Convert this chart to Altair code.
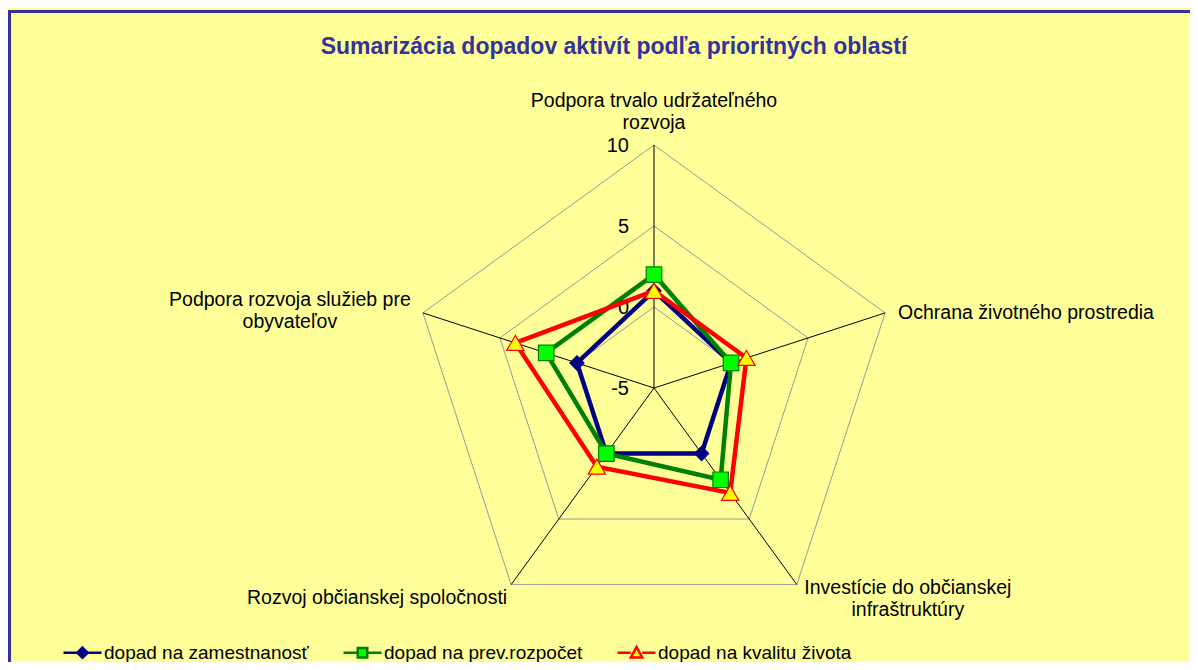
import altair as alt
import pandas as pd

# ---------------- data ----------------
categories = [
    "Podpora trvalo udržateľného rozvoja",
    "Ochrana životného prostredia",
    "Investície do občianskej infraštruktúry",
    "Rozvoj občianskej spoločnosti",
    "Podpora rozvoja služieb pre obyvateľov",
]
category_labels = [
    "Podpora trvalo udržateľného\nrozvoja",
    "Ochrana životného prostredia",
    "Investície do občianskej\ninfraštruktúry",
    "Rozvoj občianskej spoločnosti",
    "Podpora rozvoja služieb pre\nobyvateľov",
]
series_names = ["dopad na zamestnanosť", "dopad na prev.rozpočet", "dopad na kvalitu života"]
zamestnanost = [1, 0, 0, 0, 0]
rozpocet = [2, 0, 2, 0, 2]
kvalita = [1, 1, 3, 1, 4]
tick_values = [-5, 0, 5, 10]
tick_labels = ["-5", "0", "5", "10"]
title_text = "Sumarizácia dopadov aktivít podľa prioritných oblastí"

# ---------------- layout / style ----------------
W, H = 1182, 654
CX, CY = 646, 380          # centre of the radar in chart pixels
RMAX = 243                 # pixel radius of the full range
RMIN_V, RMAX_V = tick_values[0], tick_values[-1]
K = RMAX / (RMAX_V - RMIN_V)
xscale = alt.Scale(domain=[-CX / K, (W - CX) / K], nice=False, zero=False)
yscale = alt.Scale(domain=[-(H - CY) / K, CY / K], nice=False, zero=False)
N = len(categories)
FONT = "Liberation Sans"

styles = [
    dict(line="#000080", fill="#000080", stroke="#000080", shape="diamond", size=200),
    dict(line="#008000", fill="#00FF00", stroke="#008000", shape="square", size=240),
    dict(line="#FF0000", fill="#FFFF00", stroke="#FF0000", shape="triangle-up", size=300),
]
legend_paths = [
    "M-1,0H1M0,-0.27L0.27,0L0,0.27L-0.27,0Z",
    "M-1,0H-0.25M0.25,0H1M-0.25,-0.25H0.25V0.25H-0.25Z",
    "M-1,0H-0.3M0.3,0H1M0,-0.3L0.3,0.25L-0.3,0.25Z",
]

def polar(chart, rfield="value"):
    return chart.transform_calculate(
        ang=f"PI/2 - 2*PI*datum.idx/{N}",
        r=f"datum.{rfield} - ({RMIN_V})",
    ).transform_calculate(
        x="datum.r*cos(datum.ang)",
        y="datum.r*sin(datum.ang)",
    )

X = alt.X("x:Q", scale=xscale, axis=None)
Y = alt.Y("y:Q", scale=yscale, axis=None)

# ---------------- grid ----------------
ring_rows = []
for v in tick_values[1:]:
    for i in range(N + 1):
        ring_rows.append({"ring": v, "idx": i, "value": v})
rings = polar(alt.Chart(pd.DataFrame(ring_rows))).mark_line(
    color="#999999", strokeWidth=1
).encode(x=X, y=Y, detail="ring:N", order="idx:Q")

spoke_df = pd.DataFrame({"idx": list(range(N)), "value": [RMAX_V] * N, "cat": categories})
spokes = polar(alt.Chart(spoke_df)).transform_calculate(x0="0", y0="0").mark_rule(
    color="black", strokeWidth=1
).encode(
    x=alt.X("x0:Q", scale=xscale, axis=None),
    y=alt.Y("y0:Q", scale=yscale, axis=None),
    x2="x:Q", y2="y:Q",
)

tick_df = pd.DataFrame({"idx": [0] * len(tick_values), "value": tick_values, "label": tick_labels})
ticks = polar(alt.Chart(tick_df)).mark_text(
    align="right", baseline="middle", dx=-25, dy=1, font=FONT, fontSize=20, color="black"
).encode(x=X, y=Y, text="label:N")

# ---------------- category labels ----------------
lab_df = pd.DataFrame({"idx": list(range(N)), "value": [RMAX_V] * N, "label": category_labels})
lab_style = [
    dict(align="center", dx=0, dy=-44),
    dict(align="left", dx=13, dy=0),
    dict(align="center", dx=111, dy=3),
    dict(align="right", dx=-4, dy=13),
    dict(align="center", dx=-133, dy=-13),
]
cat_layers = []
for i, st in enumerate(lab_style):
    cat_layers.append(
        polar(alt.Chart(lab_df).transform_filter(f"datum.idx == {i}")).mark_text(
            baseline="middle", lineBreak="\n", lineHeight=22, font=FONT, fontSize=19.5,
            color="black", **st
        ).encode(x=X, y=Y, text="label:N")
    )

# ---------------- series ----------------
series_layers = []
for name, vals, st in zip(series_names, [zamestnanost, rozpocet, kvalita], styles):
    df = pd.DataFrame({
        "series": name,
        "idx": list(range(N + 1)),
        "value": [vals[i % N] for i in range(N + 1)],
    })
    base = polar(alt.Chart(df))
    series_layers.append(
        base.mark_line(color=st["line"], strokeWidth=4.5, strokeJoin="miter").encode(
            x=X, y=Y, order="idx:Q")
    )
    series_layers.append(
        base.transform_filter(f"datum.idx < {N}").mark_point(
            shape=st["shape"], size=st["size"], filled=True, opacity=1,
            fill=st["fill"], stroke=st["stroke"], strokeWidth=1.2
        ).encode(x=X, y=Y)
    )

# ---------------- legend (scale driven) ----------------
leg = dict(
    orient="none", legendX=54, legendY=624, direction="horizontal", title=None,
    symbolSize=1444, symbolStrokeWidth=2.5, labelFont=FONT, labelFontSize=19,
    labelColor="black", labelOffset=1, columnPadding=29, labelLimit=400,
)
legend_layer = alt.Chart(pd.DataFrame({"series": series_names})).transform_filter(
    "false"
).mark_point(filled=True, opacity=1).encode(
    x=alt.value(0), y=alt.value(0),
    shape=alt.Shape("series:N", scale=alt.Scale(domain=series_names, range=legend_paths),
                    legend=alt.Legend(**leg)),
    fill=alt.Fill("series:N", scale=alt.Scale(domain=series_names,
                  range=[s["fill"] for s in styles]), legend=alt.Legend(**leg)),
    stroke=alt.Stroke("series:N", scale=alt.Scale(domain=series_names,
                      range=[s["stroke"] for s in styles]), legend=alt.Legend(**leg)),
)

# ---------------- title & frame ----------------
one = pd.DataFrame({"t": [title_text]})
title = alt.Chart(one).mark_text(
    font=FONT, fontSize=23, fontWeight="bold", color="#333399", align="center", baseline="middle"
).encode(x=alt.value(606), y=alt.value(39), text="t:N")
frame_top = alt.Chart(one).mark_rule(color="#333399", strokeWidth=3).encode(
    x=alt.value(0), x2=alt.value(W), y=alt.value(3.5))
frame_left = alt.Chart(one).mark_rule(color="#333399", strokeWidth=3).encode(
    x=alt.value(1.5), y=alt.value(2), y2=alt.value(H))

chart = alt.layer(
    frame_top, frame_left, title, rings, spokes, ticks, *cat_layers, *series_layers, legend_layer
).properties(
    width=W, height=H, background="#FFFF99", padding=0,
    autosize=alt.AutoSizeParams(type="none"),
).configure_view(stroke=None)

chart.save("out.html", embed_options={"renderer": "svg", "actions": False})
